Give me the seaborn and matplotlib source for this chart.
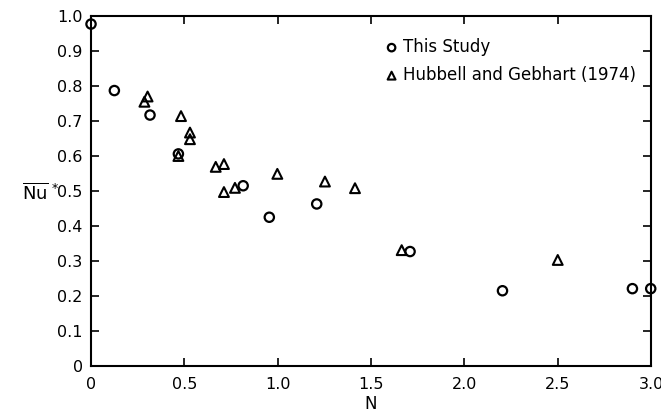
import matplotlib
matplotlib.use("Agg")
import matplotlib.pyplot as plt
import seaborn as sns
import pandas as pd

# Data
study_N = [0.0, 0.125, 0.316, 0.468, 0.815, 0.955, 1.209, 1.709, 2.204, 2.90, 2.998]
study_Nu = [0.977, 0.787, 0.717, 0.606, 0.515, 0.425, 0.463, 0.327, 0.215, 0.221, 0.221]

hg_N = [0.286, 0.303, 0.468, 0.482, 0.53, 0.53, 0.668, 0.712, 0.712, 0.771, 0.998, 1.253, 1.414, 1.664, 2.50]
hg_Nu = [0.755, 0.77, 0.60, 0.714, 0.667, 0.648, 0.569, 0.577, 0.497, 0.509, 0.549, 0.527, 0.508, 0.331, 0.303]

x_ticks = [0, 0.5, 1.0, 1.5, 2.0, 2.5, 3.0]
x_labels = ["0", "0.5", "1.0", "1.5", "2.0", "2.5", "3.0"]
y_ticks = [0, 0.1, 0.2, 0.3, 0.4, 0.5, 0.6, 0.7, 0.8, 0.9, 1.0]
y_labels = ["0", "0.1", "0.2", "0.3", "0.4", "0.5", "0.6", "0.7", "0.8", "0.9", "1.0"]

label_study = "This Study"
label_hg = "Hubbell and Gebhart (1974)"

sns.set_style("ticks")
plt.rcParams['font.family'] = ['DejaVu Sans']
plt.rcParams['text.color'] = 'black'
plt.rcParams['axes.labelcolor'] = 'black'

df_s = pd.DataFrame({"N": study_N, "Nu": study_Nu})
df_h = pd.DataFrame({"N": hg_N, "Nu": hg_Nu})

fig = plt.figure(figsize=(6.61, 4.19), dpi=100)
ax = fig.add_axes([0.1377, 0.1265, 0.8473, 0.8353])

sns.scatterplot(data=df_s, x="N", y="Nu", ax=ax, marker="o", s=45,
                facecolor="none", edgecolor="black", linewidth=1.6,
                label=label_study, clip_on=False, zorder=3)
sns.scatterplot(data=df_h, x="N", y="Nu", ax=ax, marker="^", s=50,
                facecolor="none", edgecolor="black", linewidth=1.5,
                label=label_hg, clip_on=False, zorder=3)

ax.set_xlim(0, 3.0)
ax.set_ylim(0, 1.0)
ax.set_xticks(x_ticks)
ax.set_xticklabels(x_labels)
ax.set_yticks(y_ticks)
ax.set_yticklabels(y_labels)
ax.tick_params(axis="both", direction="in", length=6, width=1.2,
               labelsize=11.5, top=True, right=True, pad=6, colors="black")
ax.tick_params(axis="x", pad=8)
for sp in ax.spines.values():
    sp.set_visible(True)
    sp.set_linewidth(1.5)
    sp.set_color("black")

ax.set_xlabel("N", fontsize=12)
ax.xaxis.set_label_coords(0.5, -0.11)
ax.xaxis.label.set_va("center")
ax.set_ylabel(r"$\overline{\mathrm{Nu}}^{\,*}$", fontsize=13, rotation=0)
ax.yaxis.set_label_coords(-0.09, 0.494)
ax.yaxis.label.set_va("center")
ax.yaxis.label.set_ha("center")

leg = ax.legend(loc="upper left", bbox_to_anchor=(0.495, 0.98), frameon=False,
                fontsize=12, handletextpad=0.2, labelspacing=0.6,
                markerscale=0.8, handlelength=1.0)

fig.savefig("out.png", dpi=100)
